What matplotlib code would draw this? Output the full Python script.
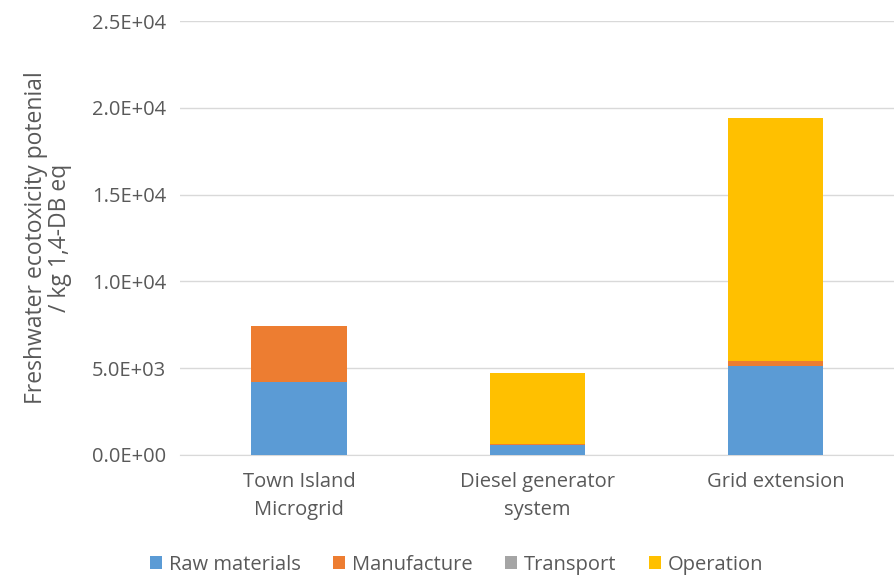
import matplotlib.pyplot as plt
import numpy as np

categories = ["Town Island\nMicrogrid", "Diesel generator\nsystem", "Grid extension"]
raw_materials = [4200, 580, 5110]
manufacture = [3210, 40, 290]
transport = [5, 5, 5]
operation = [0, 4090, 14020]

series = [("Raw materials", raw_materials, "#5B9BD5"),
          ("Manufacture", manufacture, "#ED7D31"),
          ("Transport", transport, "#A5A5A5"),
          ("Operation", operation, "#FFC000")]

plt.rcParams['font.family'] = ['Open Sans', 'DejaVu Sans']
txt = "#595959"

fig = plt.figure(figsize=(8.95, 5.84), dpi=100)
ax = fig.add_axes([0.201, 0.221, 0.799, 0.743])

x = np.arange(len(categories))
bottom = np.zeros(len(categories))
for name, vals, col in series:
    ax.bar(x, vals, 0.4, bottom=bottom, color=col, label=name, zorder=3)
    bottom += np.array(vals)

ax.set_xlim(-0.5, 2.5)
ax.set_ylim(0, 25000)
yt = np.arange(0, 25001, 5000)
ax.set_yticks(yt)
ax.set_yticklabels([f"{v:.1E}" for v in yt])
ax.set_xticks(x)
ax.set_xticklabels(categories, color=txt, fontsize=14.5, linespacing=1.55)
ax.tick_params(axis='y', colors=txt, labelsize=14.5, length=0, pad=10)
ax.tick_params(axis='x', length=0, pad=12)
ax.grid(axis='y', color="#D9D9D9", linewidth=1, zorder=0)
for s in ['left', 'right', 'top']:
    ax.spines[s].set_visible(False)
ax.spines['bottom'].set_color("#D9D9D9")

ax.set_ylabel("Freshwater ecotoxicity potenial\n/ kg 1,4-DB eq", color=txt, fontsize=16.5,
              labelpad=14, linespacing=1.0)

fig.legend(loc='lower center', bbox_to_anchor=(0.51, -0.015), ncol=4, frameon=False,
           handlelength=0.6, handleheight=0.6, handletextpad=0.35, columnspacing=1.6,
           fontsize=14.5, labelcolor=txt)

fig.savefig("out.png", dpi=100)
